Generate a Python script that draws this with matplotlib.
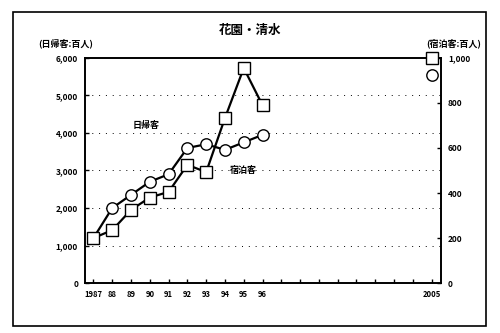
import matplotlib
matplotlib.use("Agg")
import matplotlib.pyplot as plt
from matplotlib.patches import Rectangle

plt.rcParams["font.family"] = ["Noto Sans CJK JP", "DejaVu Sans"]
plt.rcParams["font.weight"] = "bold"

# 日帰客（百人, 左軸）と 宿泊客（百人, 右軸）
years = [1987, 1988, 1989, 1990, 1991, 1992, 1993, 1994, 1995, 1996]
day_visitors = [1200, 2000, 2350, 2700, 2900, 3600, 3700, 3550, 3750, 3950]
overnight = [200, 235, 325, 380, 405, 525, 493, 733, 955, 790]
year_2005 = 2005
day_2005 = 5550
overnight_2005 = 1000

tick_years = list(range(1987, 2006))
tick_labels = ["1987", "88", "89", "90", "91", "92", "93", "94", "95", "96"] + [""] * 8 + ["2005"]
left_ticks = [0, 1000, 2000, 3000, 4000, 5000, 6000]
right_ticks = [0, 200, 400, 600, 800, 1000]

fig = plt.figure(figsize=(5, 3.33), dpi=100)
fig.patches.append(Rectangle((13 / 500, 1 - 326 / 333), 473 / 500, 314 / 333,
                             transform=fig.transFigure, fill=False,
                             edgecolor="black", linewidth=1.2))

ax = fig.add_axes([0.17, 0.150, 0.712, 0.676])
ax2 = ax.twinx()

mk = dict(markerfacecolor="white", markeredgecolor="black", markeredgewidth=1.0, markersize=8.2)
ax.plot(years, day_visitors, color="black", lw=1.6, marker="o", **mk, zorder=3)
ax.plot([year_2005], [day_2005], linestyle="none", marker="o", **mk, zorder=3)
ax2.plot(years, overnight, color="black", lw=1.6, marker="s", **mk, zorder=3)
ax2.plot([year_2005], [overnight_2005], linestyle="none", marker="s", **mk, zorder=3, clip_on=False)

ax.set_xlim(1986.55, 2005.5)
ax.set_ylim(0, 6000)
ax2.set_ylim(0, 1000)

ax.set_xticks(tick_years)
ax.set_xticklabels(tick_labels, fontsize=5.5, fontweight="bold")
ax.set_yticks(left_ticks)
ax.set_yticklabels([f"{v:,}" for v in left_ticks], fontsize=6, fontweight="bold")
ax2.set_yticks(right_ticks)
ax2.set_yticklabels([f"{v:,}" for v in right_ticks], fontsize=6, fontweight="bold")

ax.tick_params(axis="both", direction="in", length=3, width=1, pad=5)
ax2.tick_params(axis="y", direction="in", length=3, width=1, pad=5)

for a in (ax, ax2):
    for s in a.spines.values():
        s.set_linewidth(1.2)

for v in left_ticks[1:-1]:
    ax.axhline(v, color="black", lw=0.7, linestyle=(0, (1, 6)), zorder=1)

ax.text(1989.8, 4200, "日帰客", fontsize=6.5, fontweight="bold", ha="center", va="center")
ax.text(1995.0, 3010, "宿泊客", fontsize=6.5, fontweight="bold", ha="center", va="center")

fig.text(0.5, 0.91, "花園・清水", fontsize=9, fontweight="bold", ha="center", va="center")
fig.text(0.076, 0.87, "(日帰客:百人)", fontsize=6.5, fontweight="bold", ha="left", va="center")
fig.text(0.962, 0.87, "(宿泊客:百人)", fontsize=6.5, fontweight="bold", ha="right", va="center")

fig.savefig("out.png", dpi=100)
